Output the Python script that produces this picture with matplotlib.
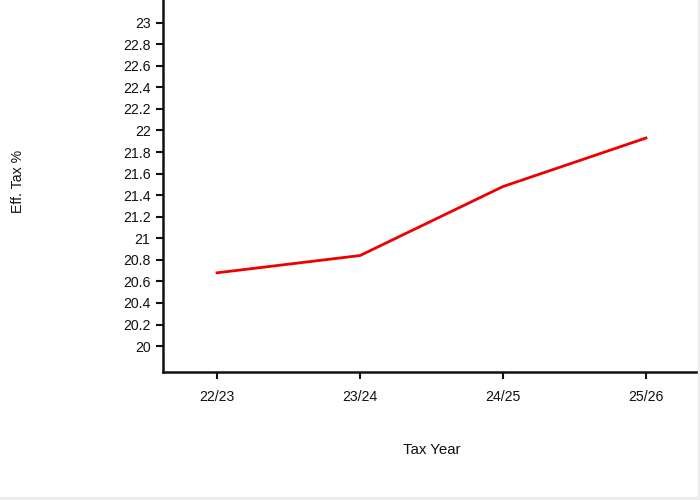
import matplotlib
matplotlib.use("Agg")
import matplotlib.pyplot as plt
from matplotlib.patches import Rectangle

years = ["22/23", "23/24", "24/25", "25/26"]
eff_tax = [20.68, 20.84, 21.48, 21.93]
yticks = [20.0, 20.2, 20.4, 20.6, 20.8, 21.0, 21.2, 21.4, 21.6, 21.8, 22.0, 22.2, 22.4, 22.6, 22.8, 23.0]
ytick_labels = ["20", "20.2", "20.4", "20.6", "20.8", "21", "21.2", "21.4", "21.6", "21.8", "22", "22.2", "22.4", "22.6", "22.8", "23"]

plt.rcParams['font.family'] = ['Liberation Sans', 'DejaVu Sans']

fig = plt.figure(figsize=(7, 5), dpi=100)
ax = fig.add_axes([163/700, 128/500, 537/700, 372/500])

x = list(range(len(years)))
ax.plot(x, eff_tax, color='#ee0000', linewidth=2)

ax.set_xlim(-0.378, 3.378)
ax.set_ylim(19.76, 23.21)
ax.set_xticks(x)
ax.set_xticklabels(years, fontsize=10.2)
ax.set_yticks(yticks)
ax.set_yticklabels(ytick_labels, fontsize=10.2)

for s in ['top', 'right']:
    ax.spines[s].set_visible(False)
for s in ['left', 'bottom']:
    ax.spines[s].set_linewidth(1.8)
    ax.spines[s].set_color('#111111')
ax.tick_params(axis='both', direction='out', length=5, width=1.5, colors='#111111', pad=4)
ax.tick_params(axis='x', pad=8)

fig.text(18/700, 1 - 181/500, "Eff. Tax %", rotation=90, ha='center', va='center', fontsize=10.2, color='#111111')
fig.text(432/700, 1 - 450/500, "Tax Year", ha='center', va='center', fontsize=10.8, color='#111111')

# thin light border at bottom and right edges
fig.patches.append(Rectangle((0, 0), 1, 3/500, transform=fig.transFigure, color='#ececec', zorder=10))
fig.patches.append(Rectangle((1 - 2/700, 0), 2/700, 1, transform=fig.transFigure, color='#ececec', zorder=10))

fig.savefig("out.png", dpi=100)
